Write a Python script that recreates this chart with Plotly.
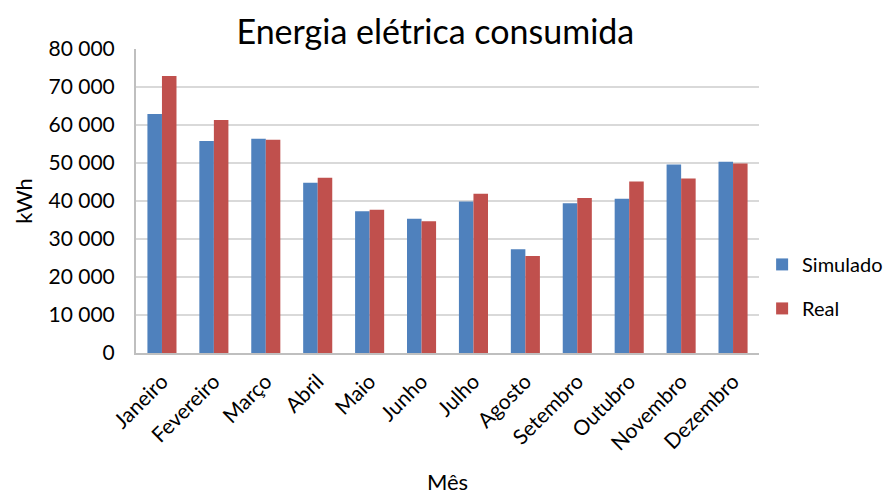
import plotly.graph_objects as go

meses = ["Janeiro", "Fevereiro", "Março", "Abril", "Maio", "Junho",
         "Julho", "Agosto", "Setembro", "Outubro", "Novembro", "Dezembro"]
simulado = [62900, 55800, 56400, 44800, 37300, 35300,
            39900, 27300, 39400, 40600, 49600, 50300]
real = [72900, 61300, 56100, 46100, 37700, 34700,
        41900, 25500, 40800, 45100, 45900, 49900]
y_ticks = [0, 10000, 20000, 30000, 40000, 50000, 60000, 70000, 80000]

FONT = "Lato, 'Open Sans', sans-serif"

fig = go.Figure()
fig.add_trace(go.Bar(name="Simulado", x=meses, y=simulado, legendgroup="sim",
                     marker=dict(color="#4F81BD", line=dict(width=0))))
fig.add_trace(go.Bar(name="Real", x=meses, y=real, legendgroup="real",
                     marker=dict(color="#C0504D", line=dict(width=0))))

fig.update_layout(
    width=894, height=495,
    margin=dict(l=136, r=135, t=49, b=142, autoexpand=False),
    paper_bgcolor="white", plot_bgcolor="white",
    barmode="group", bargap=0.44, bargroupgap=0,
    separators=", ",
    font=dict(family=FONT, size=21, color="black"),
    title=dict(text="Energia elétrica consumida", x=0.487, xanchor="center",
               y=0.935, yanchor="middle",
               font=dict(family=FONT, size=34, color="black")),
    legend=dict(x=1.005, y=0.219, xanchor="left", yanchor="middle",
                font=dict(family=FONT, size=20), itemwidth=30,
                traceorder="grouped", tracegroupgap=15,
                bgcolor="rgba(0,0,0,0)"),
    showlegend=True,
)
fig.update_xaxes(
    tickangle=-45, showgrid=False, showline=True, linecolor="#BFBFBF",
    linewidth=2, ticks="outside", ticklen=6, tickcolor="rgba(0,0,0,0)",
    tickfont=dict(family=FONT, size=21),
    title=dict(text="Mês", font=dict(family=FONT, size=22), standoff=22),
)
fig.update_yaxes(
    range=[0, 80000], tickvals=y_ticks, tickformat=",d",
    showgrid=True, gridcolor="#D9D9D9", gridwidth=2,
    showline=True, linecolor="#BFBFBF", linewidth=2,
    ticks="outside", ticklen=15, tickcolor="rgba(0,0,0,0)",
    zeroline=False, tickfont=dict(family=FONT, size=21),
    title=dict(text="kWh", font=dict(family=FONT, size=22), standoff=10),
)

fig.write_html("out.html")
